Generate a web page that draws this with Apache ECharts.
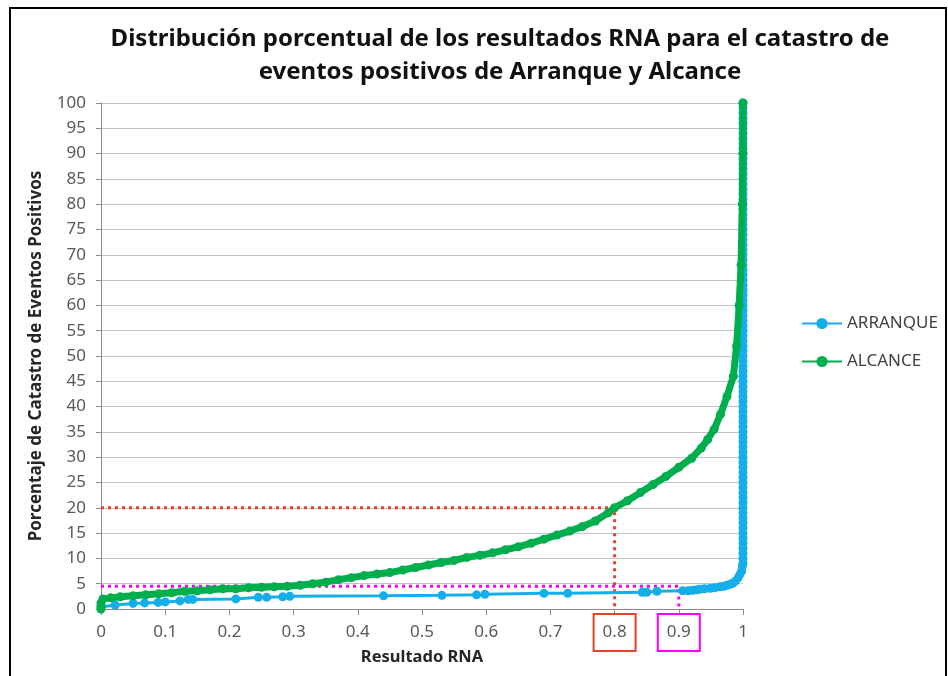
<!DOCTYPE html>
<html>
<head>
<meta charset="utf-8">
<script src="https://cdn.jsdelivr.net/npm/echarts@6/dist/echarts.min.js"></script>
<style>
html,body{margin:0;padding:0;background:#fff;}
#chart{width:948px;height:676px;}
</style>
</head>
<body>
<div id="chart"></div>
<script>
const titleLines = ['Distribución porcentual de los resultados RNA para el catastro de', 'eventos positivos de Arranque y Alcance'];
const seriesNames = ['ARRANQUE', 'ALCANCE'];
const xAxisName = 'Resultado RNA';
const yAxisName = 'Porcentaje de Catastro de Eventos Positivos';
const xTickLabels = ['0','0.1','0.2','0.3','0.4','0.5','0.6','0.7','0.8','0.9','1'];

const arranque = [
  [0,0.4],[0.022,0.8],[0.05,1.1],[0.068,1.2],[0.089,1.3],[0.10,1.4],[0.123,1.6],[0.136,1.9],[0.143,1.9],
  [0.21,2.0],[0.245,2.3],[0.258,2.3],[0.283,2.4],[0.294,2.5],[0.44,2.6],[0.531,2.7],[0.585,2.8],[0.598,2.9],
  [0.69,3.1],[0.727,3.1],[0.843,3.3],[0.85,3.3],[0.866,3.5],[0.906,3.6],[0.915,3.6],[0.922,3.7],[0.928,3.8],
  [0.933,3.9],[0.94,4.0],[0.949,4.1],[0.956,4.2],[0.964,4.4],[0.97,4.5],[0.975,4.7],[0.98,4.9],[0.984,5.1],
  [0.988,5.5],[0.992,6.1],[0.995,6.8],[0.998,7.5],[0.999,8.5],
  [1,9],[1,10],[1,11],[1,12],[1,13],[1,14],[1,15],[1,16],[1,17],[1,18],[1,19],[1,20],[1,21],[1,22],[1,23],
  [1,24],[1,25],[1,26],[1,27],[1,28],[1,29],[1,30],[1,31],[1,32],[1,33],[1,34],[1,35],[1,36],[1,37],[1,38],
  [1,39],[1,40],[1,41],[1,42],[1,43],[1,44],[1,45],[1,46],[1,47],[1,48],[1,49],[1,50],[1,51],[1,52],[1,53],
  [1,54],[1,55],[1,56],[1,57],[1,58],[1,59],[1,60],[1,61],[1,62],[1,63],[1,64],[1,65],[1,66],[1,67],[1,68],
  [1,69],[1,70],[1,71],[1,72],[1,73],[1,74],[1,75],[1,76],[1,77],[1,78],[1,79],[1,80],[1,81],[1,82],[1,83],
  [1,84],[1,85],[1,86],[1,87],[1,88],[1,89],[1,90],[1,91],[1,92],[1,93],[1,94],[1,95],[1,96],[1,97],[1,98],
  [1,99],[1,100]
];
const alcance = [
  [0,0],[0,0.6],[0,1.2],[0.003,2.0],[0.015,2.2],[0.03,2.4],[0.05,2.6],[0.07,2.8],[0.09,3.0],[0.11,3.2],
  [0.13,3.5],[0.15,3.6],[0.17,3.8],[0.19,4.0],[0.21,4.0],[0.23,4.2],[0.25,4.3],[0.27,4.4],[0.29,4.5],
  [0.31,4.7],[0.33,5.0],[0.35,5.3],[0.37,5.8],[0.39,6.2],[0.41,6.6],[0.43,6.9],[0.45,7.2],[0.47,7.7],
  [0.49,8.2],[0.51,8.7],[0.53,9.2],[0.55,9.6],[0.57,10.2],[0.59,10.6],[0.61,11.1],[0.63,11.7],[0.65,12.3],
  [0.67,13.0],[0.69,13.8],[0.71,14.6],[0.73,15.4],[0.75,16.3],[0.77,17.4],[0.79,19.0],[0.80,20.0],
  [0.82,21.4],[0.84,23.0],[0.86,24.6],[0.88,26.2],[0.90,28.0],[0.92,29.8],[0.935,31.8],[0.945,33.5],
  [0.955,35.5],[0.965,38.5],[0.975,42],[0.985,46],[0.99,52],[0.994,60],[0.997,68],[0.999,80],[1,90],[1,100]
];
const refLine80 = [[0,20],[0.8,20],[0.8,0]];
const refLine90 = [[0,4.5],[0.9,4.5],[0.9,0]];

const FONT = 'Noto Sans';
const chart = echarts.init(document.getElementById('chart'), null, {renderer: 'canvas'});

chart.setOption({
  animation: false,
  backgroundColor: '#fff',
  textStyle: {fontFamily: FONT},
  title: {
    text: titleLines.join('\n'),
    left: 500, top: 23, textAlign: 'center', padding: 0,
    textStyle: {fontFamily: FONT, fontSize: 24, fontWeight: 'bold', color: '#111', lineHeight: 33}
  },
  legend: {
    orient: 'vertical', left: 796, top: 310,
    itemWidth: 40, itemHeight: 14, itemGap: 21,
    data: seriesNames,
    textStyle: {fontFamily: FONT, fontSize: 17, color: '#404040'}
  },
  grid: {left: 101, right: 205, top: 103, bottom: 67, containLabel: false, outerBoundsMode: 'none'},
  xAxis: {
    type: 'value', min: 0, max: 1, interval: 0.1,
    name: xAxisName, nameLocation: 'middle', nameGap: 40, nameMoveOverlap: false,
    nameTextStyle: {fontFamily: FONT, fontSize: 16.5, fontWeight: 'bold', color: '#262626'},
    axisLine: {show: true, lineStyle: {color: '#8c8c8c', width: 1}},
    axisTick: {show: true, length: 6, lineStyle: {color: '#8c8c8c'}},
    splitLine: {show: false},
    axisLabel: {
      margin: 5,
      formatter: function (v) {
        const i = Math.round(v * 10);
        const t = xTickLabels[i];
        if (i === 8) return '{r|' + t + '}';
        if (i === 9) return '{m|' + t + '}';
        return '{n|' + t + '}';
      },
      rich: {
        n: {fontFamily: FONT, fontSize: 17, color: '#595959', padding: [10, 9, 10, 9]},
        r: {fontFamily: FONT, fontSize: 17, color: '#595959', padding: [10, 9, 10, 9], borderColor: '#E2432A', borderWidth: 2},
        m: {fontFamily: FONT, fontSize: 17, color: '#595959', padding: [10, 9, 10, 9], borderColor: '#FF00FF', borderWidth: 2}
      }
    }
  },
  yAxis: {
    type: 'value', min: 0, max: 100, interval: 5,
    name: yAxisName, nameLocation: 'middle', nameGap: 56, nameRotate: 90, nameMoveOverlap: false,
    nameTextStyle: {fontFamily: FONT, fontSize: 17, fontWeight: 'bold', color: '#262626'},
    axisLine: {show: true, lineStyle: {color: '#8c8c8c', width: 1}},
    axisTick: {show: true, length: 5, lineStyle: {color: '#8c8c8c'}},
    splitLine: {show: true, lineStyle: {color: '#C4C4C4', width: 1}},
    axisLabel: {margin: 15, fontFamily: FONT, fontSize: 17, color: '#595959'}
  },
  graphic: [{
    type: 'rect', silent: true, z: 100,
    shape: {x: 10, y: 8, width: 936, height: 700},
    style: {fill: null, stroke: '#000', lineWidth: 2}
  }],
  series: [
    {
      name: 'ref80', type: 'line', data: refLine80, showSymbol: false, symbol: 'none', z: 1,
      lineStyle: {color: '#E2432A', width: 3, type: [3, 4]}, silent: true
    },
    {
      name: 'ref90', type: 'line', data: refLine90, showSymbol: false, symbol: 'none', z: 1,
      lineStyle: {color: '#FF00FF', width: 3, type: [3, 4]}, silent: true
    },
    {
      name: seriesNames[0], type: 'line', data: arranque, z: 2,
      symbol: 'circle', symbolSize: 9, showAllSymbol: true,
      itemStyle: {color: '#14AEEB'},
      lineStyle: {color: '#14AEEB', width: 3}
    },
    {
      name: seriesNames[1], type: 'line', data: alcance, z: 3,
      symbol: 'circle', symbolSize: 9, showAllSymbol: true,
      itemStyle: {color: '#00AE4E'},
      lineStyle: {color: '#00AE4E', width: 7}
    }
  ]
});
</script>
</body>
</html>
